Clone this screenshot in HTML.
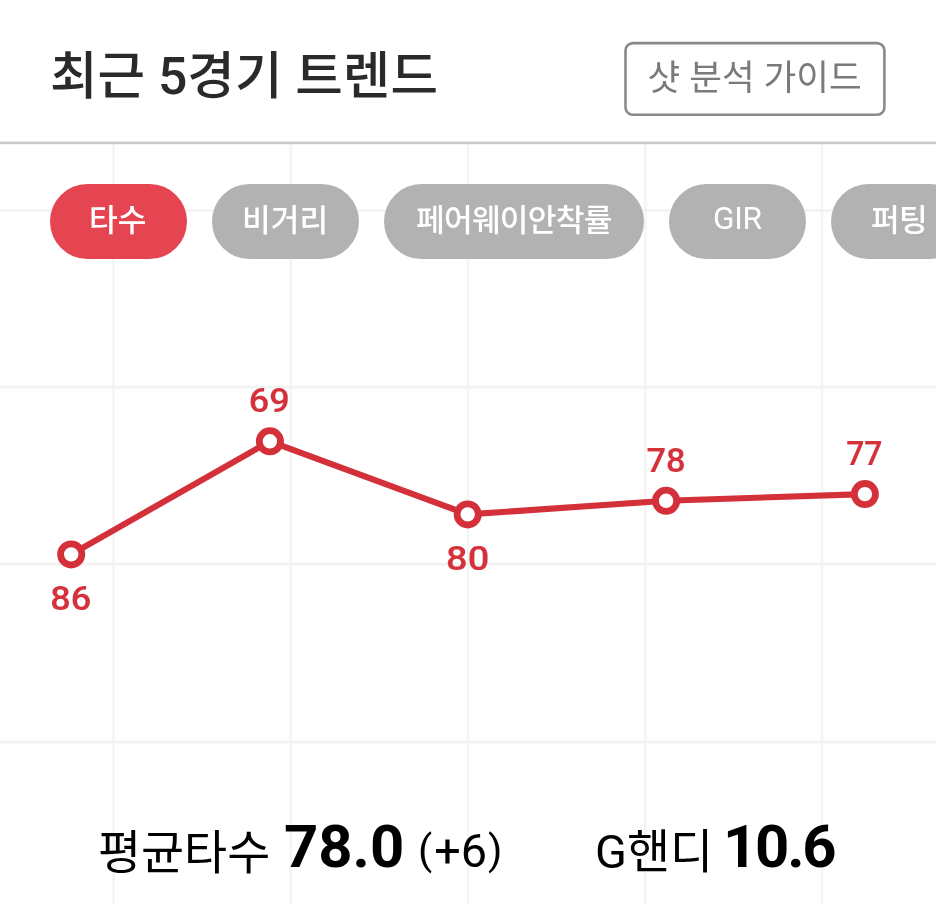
<!DOCTYPE html>
<html lang="ko">
<head>
<meta charset="utf-8">
<style>
html,body{margin:0;padding:0;}
body{width:936px;height:904px;overflow:hidden;background:#fff;position:relative;-webkit-font-smoothing:antialiased;
  font-family:"Roboto","Liberation Sans","Noto Sans CJK KR",sans-serif;}
.abs{position:absolute;white-space:nowrap;margin:0;}
.abs,.pt,.stat,svg{will-change:transform;}
.grid{position:absolute;left:0;top:0;}
.title{left:50px;top:39.7px;font-size:51.7px;font-weight:500;color:#2a2a2a;line-height:74px;}
.guide{left:624.2px;top:41.8px;width:261.5px;height:74.3px;}
.guide span{position:absolute;left:23.6px;top:1.8px;font-size:35.6px;color:#7a7a7a;line-height:69px;}
.pill{position:absolute;top:183.9px;height:74.8px;border-radius:37.4px;background:#b2b2b2;}
.pill.on{background:#e44551;}
.pt{position:absolute;top:184px;font-size:31.2px;font-weight:500;color:#fff;line-height:74.4px;white-space:nowrap;}
.stat{position:absolute;color:#000;white-space:nowrap;line-height:80px;}
.k{font-size:46.8px;font-weight:400;}
.n{font-size:59.8px;font-weight:700;}
.par{font-size:41.5px;position:relative;top:-3.5px;}
</style>
</head>
<body>
<svg class="grid" width="936" height="904" viewBox="0 0 936 904">
  <g stroke="#f5f5f5" stroke-width="2.7">
    <line x1="113.6" y1="144" x2="113.6" y2="904"/>
    <line x1="290.8" y1="144" x2="290.8" y2="904"/>
    <line x1="468.1" y1="144" x2="468.1" y2="904"/>
    <line x1="645.3" y1="144" x2="645.3" y2="904"/>
    <line x1="822" y1="144" x2="822" y2="904"/>
  </g>
  <g stroke="#f2f2f2" stroke-width="2.7">
    <line x1="0" y1="210.5" x2="936" y2="210.5"/>
    <line x1="0" y1="387.1" x2="936" y2="387.1"/>
    <line x1="0" y1="564.2" x2="936" y2="564.2"/>
    <line x1="0" y1="742.1" x2="936" y2="742.1"/>
  </g>
  <rect x="0" y="141.6" width="936" height="2.6" fill="#c9c9c9"/>
  <rect x="625.5" y="43.1" width="258.9" height="71.7" rx="7.4" ry="7.4" fill="#fff" stroke="#8a8a8a" stroke-width="2.6"/>
</svg>
<h1 class="abs title">최근 5경기 트렌드</h1>
<div class="abs guide"><span>샷 분석 가이드</span></div>

<div class="pill on" style="left:50.3px;width:136.7px;"></div>
<div class="pill" style="left:212.2px;width:147px;"></div>
<div class="pill" style="left:384.2px;width:259.6px;"></div>
<div class="pill" style="left:668.9px;width:137.1px;"></div>
<div class="pill" style="left:830.8px;width:137px;"></div>
<div class="pt" style="left:88.5px;">타수</div>
<div class="pt" style="left:242px;">비거리</div>
<div class="pt" style="left:416px;letter-spacing:-0.75px;">페어웨이안착률</div>
<div class="pt" style="left:713.3px;top:182.2px;font-weight:400;font-size:31.6px;letter-spacing:-0.3px;">GIR</div>
<div class="pt" style="left:870.9px;letter-spacing:-0.8px;">퍼팅</div>

<svg class="grid" width="936" height="904" viewBox="0 0 936 904">
  <polyline points="71.2,554.4 269.9,441.3 467.7,514.4 666.1,500.8 864.9,494.1" fill="none" stroke="#d4303a" stroke-width="6.1" stroke-linejoin="round"/>
  <g fill="#fff" stroke="#d4303a" stroke-width="6.8">
    <circle cx="71.2" cy="554.4" r="10.6"/>
    <circle cx="269.9" cy="441.3" r="10.6"/>
    <circle cx="467.7" cy="514.4" r="10.6"/>
    <circle cx="666.1" cy="500.8" r="10.6"/>
    <circle cx="864.9" cy="494.1" r="10.6"/>
  </g>
  <g fill="#d4313b" stroke="#d4313b" stroke-width="0.2" font-family="Roboto, Liberation Sans, sans-serif" font-size="34" font-weight="500" text-anchor="middle">
    <text x="70.8" y="610" textLength="41" lengthAdjust="spacingAndGlyphs">86</text>
    <text x="269.3" y="412.3" textLength="41" lengthAdjust="spacingAndGlyphs">69</text>
    <text x="467.7" y="570.3" textLength="43.2" lengthAdjust="spacingAndGlyphs">80</text>
    <text x="666" y="472.3" textLength="39.2" lengthAdjust="spacingAndGlyphs">78</text>
    <text x="864.3" y="465.3" textLength="36.2" lengthAdjust="spacingAndGlyphs">77</text>
  </g>
</svg>

<div class="stat k" style="left:98px;top:812.5px;">평균타수</div>
<div class="stat n" style="left:283.8px;top:807px;">78.0</div>
<div class="stat k" style="left:418px;top:811px;"><span class="par" style="margin-right:2px">(</span>+6<span class="par" style="margin-left:1px">)</span></div>
<div class="stat k" style="left:595.4px;top:812.3px;">G핸디</div>
<div class="stat n" style="left:723.4px;top:807px;letter-spacing:-2.2px;">10.6</div>
</body>
</html>
